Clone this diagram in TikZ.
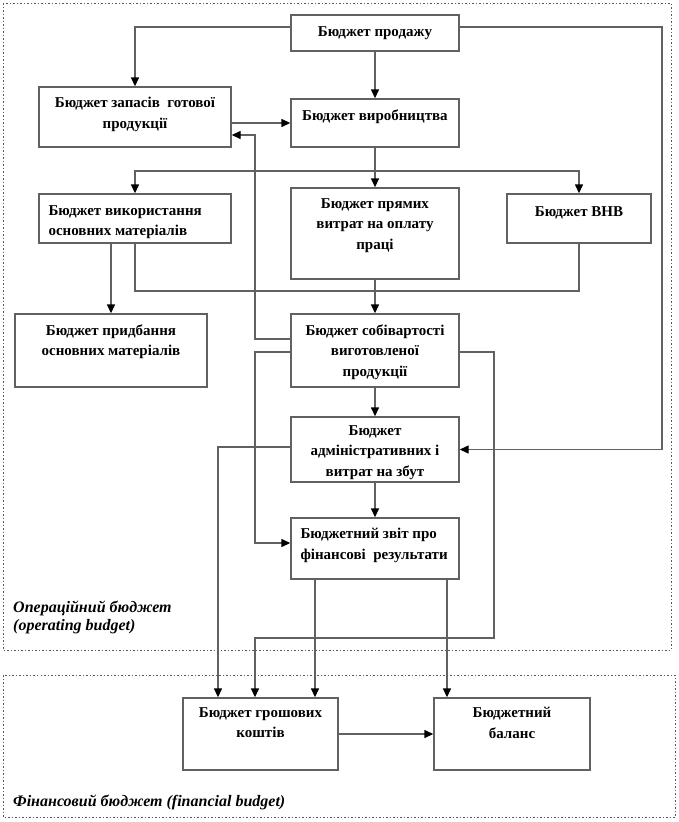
\documentclass[tikz,border=0pt]{standalone}
\usepackage{fontspec}
\setmainfont{Liberation Serif}
\usetikzlibrary{arrows.meta,calc}
\begin{document}
\begin{tikzpicture}[x=1pt,y=-1pt,
  box/.style={draw=black!62, line width=1.4pt, inner sep=0pt, rectangle},
  txt/.style={font=\fontsize{15}{20.5}\selectfont\bfseries, align=center, inner sep=0pt, anchor=north},
  txtl/.style={font=\fontsize{15}{20.5}\selectfont\bfseries, align=left, inner sep=0pt, anchor=north west},
  ln/.style={draw=black!62, line width=1.4pt},
  arr/.style={ln, -{Triangle[length=9pt,width=8pt,color=black]}},
  frame/.style={draw=black!65, line width=1pt, dash pattern=on 1.5pt off 2pt},
  captxt/.style={font=\fontsize{16}{18}\selectfont\bfseries\itshape, align=left, inner sep=0pt, anchor=north west}]
\useasboundingbox (0,0) rectangle (678,822);
% frames
\draw[frame] (3,3) rectangle (671,650);
\draw[frame] (3,675) rectangle (675,817);
% boxes
\node[box, minimum width=168, minimum height=36] (sales) at (375,33) {};
\node[box, minimum width=168, minimum height=48] (prod) at (375,123) {};
\node[box, minimum width=192, minimum height=60] (stock) at (135,117) {};
\node[box, minimum width=192, minimum height=49] (usage) at (135,218.5) {};
\node[box, minimum width=168, minimum height=91] (direct) at (375,233.5) {};
\node[box, minimum width=144, minimum height=49] (vnv) at (579,218.5) {};
\node[box, minimum width=192, minimum height=73] (purchase) at (111,350.5) {};
\node[box, minimum width=168, minimum height=73] (cost) at (375,350.5) {};
\node[box, minimum width=168, minimum height=65] (admin) at (375,449.5) {};
\node[box, minimum width=168, minimum height=61] (report) at (375,548.5) {};
\node[box, minimum width=155, minimum height=72] (cash) at (260.5,734) {};
\node[box, minimum width=156, minimum height=72] (balance) at (512,734) {};
% texts
\node[txt] (salesT) at ($(sales.north)+(0,12)$) {Бюджет продажу};
\node[txt] (prodT) at ($(prod.north)+(0,11)$) {Бюджет виробництва};
\node[txt] (stockT) at ($(stock.north)+(0,11)$) {Бюджет запасів\ \ готової\\продукції};
\node[txtl] (usageT) at ($(usage.north west)+(10,12)$) {Бюджет використання\\основних матеріалів};
\node[txt] (directT) at ($(direct.north)+(0,11)$) {Бюджет прямих\\витрат на оплату\\праці};
\node[txt] (vnvT) at ($(vnv.north)+(0,13)$) {Бюджет ВНВ};
\node[txt] (purchaseT) at ($(purchase.north)+(0,11)$) {Бюджет придбання\\основних матеріалів};
\node[txt] (costT) at ($(cost.north)+(0,11)$) {Бюджет собівартості\\виготовленої\\продукції};
\node[txt] (adminT) at ($(admin.north)+(0,9)$) {Бюджет\\адміністративних і\\витрат на збут};
\node[txtl] (reportT) at ($(report.north west)+(10,11)$) {Бюджетний звіт про\\фінансові\ \ результати};
\node[txt] (cashT) at ($(cash.north)+(0,10)$) {Бюджет грошових\\коштів};
\node[txt] (balanceT) at ($(balance.north)+(0,10)$) {Бюджетний\\баланс};
\node[captxt] (opT) at (13,601) {Операційний бюджет\\(operating budget)};
\node[captxt] (finT) at (13,795) {Фінансовий бюджет (financial budget)};
% connectors
\coordinate (rtop) at (662,27);
\draw[arr] (sales.west |- 0,27) -| (stock.north);
\draw[arr] (sales.south) -- (prod.north);
\draw[arr] (sales.east |- 0,27) -- (rtop) |- (admin.east);
\draw[arr] (stock.east |- 0,123) -- (prod.west |- 0,123);
\draw[arr] (prod.south) -- (direct.north);
\draw[arr] (prod.south |- 0,171) -| (usage.north);
\draw[arr] (prod.south |- 0,171) -| (vnv.north);
\draw[arr] (purchase.north |- usage.south) -- (purchase.north);
\draw[ln] (usage.south) |- (vnv.south |- 0,291) -- (vnv.south);
\draw[arr] (direct.south) -- (cost.north);
\draw[arr] (cost.west |- 0,339) -- (255,339) -- (255,135) -- (stock.east |- 0,135);
\draw[arr] (cost.west |- 0,352) -- (255,352) |- (report.west |- 0,543);
\draw[arr] (cost.south) -- (admin.north);
\draw[arr] (cost.east |- 0,352) -- (494,352) -- (494,638) -- (255,638) -- (cash.north -| 255,0);
\draw[arr] (admin.west |- 0,447) -- (218,447) -- (cash.north -| 218,0);
\draw[arr] (admin.south) -- (report.north);
\draw[arr] (report.south -| 315,0) -- (cash.north -| 315,0);
\draw[arr] (report.south -| 447,0) -- (balance.north -| 447,0);
\draw[arr] (cash.east) -- (balance.west);
\end{tikzpicture}
\end{document}
